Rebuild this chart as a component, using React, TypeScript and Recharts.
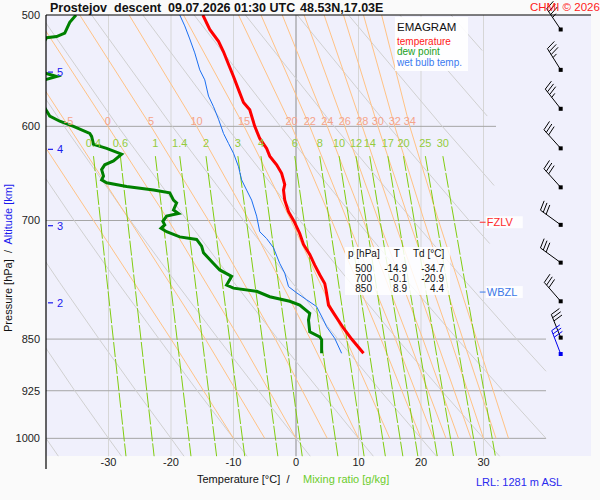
import React from "react";
import { ComposedChart, Line, XAxis, YAxis, ReferenceDot } from "recharts";

const FONT = '"Liberation Sans", Arial, Helvetica, sans-serif';

// axes
const tempTicks = [-30, -20, -10, 0, 10, 20, 30];
const pressureTicks = [500, 600, 700, 850, 925, 1000];

// temperature profile
const tempP = [500, 512, 522, 531, 542, 553, 565, 577, 584, 600, 612, 622, 630, 639, 648, 660, 666, 677, 690, 701, 715, 728, 740, 753, 765, 776, 784, 804, 817, 835, 850, 870];
const tempT = [-14.9, -13.8, -12.4, -11.6, -10.8, -10.0, -9.2, -8.4, -7.4, -6.6, -5.8, -4.7, -4.2, -3.1, -2.3, -1.8, -2.0, -1.8, -1.2, -0.3, 0.6, 1.2, 2.2, 3.0, 3.8, 4.6, 4.8, 5.2, 6.2, 7.6, 8.9, 10.8];

// dew point profile
const dewP = [500, 506, 515, 518, 519, 523, 533, 547, 550, 553, 556, 565, 582, 590, 595, 600, 607, 610, 618, 622, 628, 635, 639, 644, 651, 655, 658, 662, 666, 669, 677, 680, 688, 692, 695, 701, 705, 709, 713, 719, 722, 730, 738, 751, 759, 767, 778, 782, 786, 793, 799, 804, 815, 824, 840, 847, 851, 870];
const dewT = [-35.2, -36.2, -37.0, -38.3, -39.9, -40.4, -43, -42, -40.1, -38.3, -40.2, -43, -40.2, -39.4, -37.8, -35.6, -33.0, -32.7, -32.4, -30.3, -27.9, -29.2, -30.6, -31.1, -30.8, -31.1, -30.3, -27.1, -22.8, -20.2, -19.6, -19.1, -19.6, -18.8, -20.7, -21.3, -21.0, -21.6, -20.7, -18.6, -15.9, -15.1, -14.8, -13.2, -12.2, -10.3, -11.1, -10.0, -6.3, -4.2, -1.0, 0.6, 2.2, 2.0, 2.2, 3.8, 4.1, 4.1];

// wet bulb profile
const wetP = [500, 509, 520, 532, 547, 556, 571, 581, 593, 607, 617, 627, 641, 655, 666, 677, 695, 713, 721, 732, 751, 763, 780, 788, 797, 806, 824, 833, 849, 870];
const wetT = [-18.6, -17.8, -17.0, -16.2, -15.4, -14.6, -14.0, -13.2, -12.4, -11.6, -10.8, -10.0, -9.2, -8.7, -7.9, -7.1, -6.3, -5.8, -4.7, -3.6, -2.6, -1.8, -1.2, 0.1, 1.7, 3.3, 4.4, 4.9, 6.2, 7.3];

// moist adiabats (labelled by wet bulb potential temperature)
const moistLevels = [1000, 850, 700, 600, 500];
const moistThetaW = [-10, -5, 0, 5, 10, 15, 20, 22, 24, 26, 28, 30, 32, 34];
const moistT850 = [-20.0, -14.5, -9.0, -3.3, 2.3, 8.0, 13.6, 15.9, 18.0, 20.3, 22.4, 24.7, 26.7, 28.9];
const moistT700 = [-32.4, -26.6, -20.4, -14.0, -7.5, -0.8, 5.7, 8.2, 10.8, 13.2, 15.7, 18.1, 20.5, 22.8];
const moistT600 = [-42.3, -36.4, -30.1, -23.2, -15.9, -8.3, -0.7, 2.2, 5.0, 7.8, 10.6, 13.1, 15.8, 18.2];
const moistT500 = [-53.7, -48.0, -41.7, -34.6, -26.7, -18.0, -9.2, -5.6, -2.2, 1.3, 4.5, 7.6, 10.8, 13.7];

// dry adiabats
const dryP = [
  [1030, 1000, 925],
  [1030, 1000, 925, 850, 775],
  [1030, 1000, 925, 850, 775, 700],
  [1030, 1000, 925, 850, 775, 700, 600],
  [1030, 1000, 925, 850, 775, 700, 600, 500],
  [1030, 1000, 925, 850, 775, 700, 600, 500],
  [1030, 1000, 925, 850, 775, 700, 600, 500],
  [1030, 1000, 925, 850, 775, 700, 600, 500],
  [1000, 925, 850, 775, 700, 600, 500],
  [896, 850, 775, 700, 600, 500],
  [727, 700, 600, 500],
  [661, 600, 500],
  [590, 500],
  [530, 500],
];
const dryT = [
  [-38.0, -40.0, -45.1],
  [-27.9, -30.0, -35.4, -41.0, -47.1],
  [-17.9, -20.0, -25.6, -31.5, -37.8, -44.5],
  [-7.8, -10.0, -15.8, -21.9, -28.5, -35.5, -45.7],
  [2.3, 0, -6.0, -12.4, -19.2, -26.5, -37.1, -49.1],
  [12.4, 10, 3.8, -2.9, -9.9, -17.4, -28.5, -40.9],
  [22.5, 20, 13.5, 6.7, -0.6, -8.4, -19.8, -32.7],
  [32.6, 30, 23.3, 16.2, 8.7, 0.6, -11.2, -24.5],
  [40, 33.1, 25.8, 18.0, 9.7, -2.5, -16.3],
  [40, 35.3, 27.3, 18.7, 6.1, -8.1],
  [31.0, 27.7, 14.8, 0.2],
  [31.7, 23.4, 8.4],
  [30.6, 16.6],
  [29.8, 24.8],
];

// mixing ratio lines (g/kg)
const mixLabels = ["0.4", "0.6", "1", "1.4", "2", "3", "4", "6", "8", "10", "12", "14", "17", "20", "25", "30"];
const mixLevels = [630, 1030];
const mixTopT = [-32.4, -28.1, -22.5, -18.6, -14.4, -9.3, -5.6, -0.2, 3.8, 6.9, 9.6, 11.8, 14.7, 17.2, 20.7, 23.5];
const mixBottomT = [-27.2, -22.7, -16.8, -12.7, -8.2, -2.9, 1.0, 6.7, 10.9, 14.3, 17.1, 19.5, 22.6, 25.2, 28.9, 31.9];

// isobars and isotherms
const isobarP = [600, 700, 850, 925, 1000];
const isobarEndT = [32, 29.4, 40, 40, 40];
const isothermT = [-30, -20, -10, 0, 10, 20, 30];

// wind
const windP = [512, 547, 583, 622, 663, 705, 750, 799, 848, 871];
const windDir = [326, 328, 322, 318, 318, 306, 306, 319, 338, 339];
const windSpd = [35, 35, 35, 30, 30, 30, 30, 30, 30, 30];

// altitude marks
const altKm = [5, 4, 3, 2];
const altP = [549, 623, 706, 801];

// table
const tableP = [500, 700, 850];
const tableT = [-14.9, -0.1, 8.9];
const tableTd = [-34.7, -20.9, 4.4];

const fzlvP = 702;
const wbzlP = 787;

const pts = (ts: number[], ps: number[]) => ts.map((t, i) => ({ t, p: ps[i] }));

const series = (key: string, data: any[], stroke: string, width = 1, dash?: string) => (
  <Line
    key={key}
    data={data}
    dataKey="p"
    type="linear"
    stroke={stroke}
    strokeWidth={width}
    strokeDasharray={dash}
    dot={false}
    activeDot={false}
    legendType="none"
    isAnimationActive={false}
  />
);

const textShape = (label: string, color: string, size = 11) => (props: any) => (
  <text
    x={props.cx}
    y={props.cy}
    textAnchor="middle"
    dominantBaseline="central"
    fontSize={size}
    fontFamily={FONT}
    fill={color}
  >
    {label}
  </text>
);

const barbShape = (dir: number, spd: number, color: string) => (props: any) => {
  const { cx, cy } = props;
  const a = (dir * Math.PI) / 180;
  const ux = Math.sin(a);
  const uy = -Math.cos(a);
  const px = -uy;
  const py = ux;
  const fx = 0.25 * ux + 0.97 * px;
  const fy = 0.25 * uy + 0.97 * py;
  const ex = cx + ux * 25;
  const ey = cy + uy * 25;
  const full = Math.floor(spd / 10);
  const feathers = [];
  for (let i = 0; i < full; i++) {
    const sx = ex - ux * 3.5 * i;
    const sy = ey - uy * 3.5 * i;
    feathers.push(<line key={i} x1={sx} y1={sy} x2={sx + fx * 10} y2={sy + fy * 10} />);
  }
  if (spd % 10 >= 5) {
    const sx = ex - ux * 3.5 * full;
    const sy = ey - uy * 3.5 * full;
    feathers.push(<line key="h" x1={sx} y1={sy} x2={sx + fx * 5} y2={sy + fy * 5} />);
  }
  return (
    <g stroke={color} strokeWidth={1} fill="none">
      <line x1={cx} y1={cy} x2={ex} y2={ey} />
      {feathers}
      <rect x={cx - 2} y={cy - 2} width={4} height={4} fill={color} stroke="none" />
    </g>
  );
};

const altShape = (km: number) => (props: any) => (
  <g>
    <line x1={props.cx + 2} y1={props.cy} x2={props.cx + 7} y2={props.cy} stroke="#1a1aee" strokeWidth={1.2} />
    <text x={props.cx + 11} y={props.cy + 4} fontSize={11} fontFamily={FONT} fill="#1a1aee">
      {km}
    </text>
  </g>
);

const levelShape = (label: string, color: string) => (props: any) => (
  <g>
    <line x1={props.cx} y1={props.cy} x2={props.cx + 6} y2={props.cy} stroke={color} strokeWidth={1} />
    <rect x={props.cx + 6} y={props.cy - 6} width={37} height={12} fill="#ffffff" fillOpacity={0.85} />
    <text x={props.cx + 7} y={props.cy + 4} fontSize={11} fontFamily={FONT} fill={color}>
      {label}
    </text>
  </g>
);

export default function App() {
  return (
    <div style={{ position: "absolute", left: 0, top: 0, width: 600, height: 500, background: "#fafafa", fontFamily: FONT }}>
      <div style={{ position: "absolute", left: 46, top: 15, width: 545, height: 441.4, background: "#f0f0fc" }} />
      <div style={{ position: "absolute", left: 0, top: 0 }}>
        <ComposedChart width={600} height={500} margin={{ top: 15, right: 9, bottom: 0, left: 0 }}>
          <XAxis
            type="number"
            dataKey="t"
            domain={[-40, 47.2]}
            allowDataOverflow
            ticks={tempTicks}
            interval={0}
            tickLine={false}
            axisLine={false}
            tickSize={0}
            tickMargin={2}
            height={43.6}
            tick={{ fontSize: 11, fill: "#222", fontFamily: FONT }}
          />
          <YAxis
            type="number"
            scale="log"
            domain={[500, 1030]}
            reversed
            allowDataOverflow
            ticks={pressureTicks}
            interval={0}
            tickLine={false}
            axisLine={false}
            tickSize={0}
            tickMargin={6}
            width={46}
            tick={{ fontSize: 11, fill: "#222", fontFamily: FONT }}
          />

          {isothermT.map((t) =>
            series(`it${t}`, pts([t, t], [500, 1030]), t === 0 ? "#8c8c8c" : "#d6d6d6")
          )}
          {isobarP.map((p, i) => series(`ip${p}`, pts([-40, isobarEndT[i]], [p, p]), "#a6a6a6"))}
          {dryP.map((ps, i) => series(`dry${i}`, pts(dryT[i], ps), "#d0d0d0"))}
          {moistThetaW.map((w, i) =>
            series(
              `moist${w}`,
              pts([w, moistT850[i], moistT700[i], moistT600[i], moistT500[i]], moistLevels),
              "#ffc285"
            )
          )}
          {mixLabels.map((m, i) =>
            series(`mix${m}`, pts([mixTopT[i], mixBottomT[i]], mixLevels), "#80cc10", 1, "15 2")
          )}

          {series("dew", pts(dewT, dewP), "#008000", 3)}
          {series("wet", pts(wetT, wetP), "#1a6ef0", 1)}
          {series("temp", pts(tempT, tempP), "#ff0000", 3)}

          {moistThetaW.map((w, i) =>
            moistT600[i] > -40 ? (
              <ReferenceDot key={`ml${w}`} x={moistT600[i]} y={594.5} ifOverflow="visible" shape={textShape(String(w), "#f5a48a")} />
            ) : null
          )}
          {mixLabels.map((m, i) => (
            <ReferenceDot key={`xl${m}`} x={mixTopT[i]} y={616.3} ifOverflow="visible" shape={textShape(m, "#94cc3c")} />
          ))}
          {altKm.map((k, i) => (
            <ReferenceDot key={`alt${k}`} x={-40} y={altP[i]} ifOverflow="visible" shape={altShape(k)} />
          ))}
          <ReferenceDot x={29.4} y={fzlvP} ifOverflow="visible" shape={levelShape("FZLV", "#ff2a2a")} />
          <ReferenceDot x={29.4} y={wbzlP} ifOverflow="visible" shape={levelShape("WBZL", "#3a78e8")} />
          {windP.map((p, i) => (
            <ReferenceDot
              key={`wb${i}`}
              x={42.35}
              y={p}
              ifOverflow="visible"
              shape={barbShape(windDir[i], windSpd[i], i === windP.length - 1 ? "#0000ee" : "#000000")}
            />
          ))}
        </ComposedChart>
      </div>

      <svg width={600} height={500} style={{ position: "absolute", left: 0, top: 0, pointerEvents: "none" }} fontFamily={FONT}>
        <line x1={46} y1={15} x2={591} y2={15} stroke="#000" strokeWidth={1.2} />
        <line x1={46} y1={15} x2={46} y2={469} stroke="#000" strokeWidth={1.2} />

        <g fontWeight="bold" fontSize={12.5} fill="#111">
          <text x={50} y={11.5}>Prostejov</text>
          <text x={114} y={11.5}>descent</text>
          <text x={168} y={11.5}>09.07.2026 01:30 UTC</text>
          <text x={300} y={11.5}>48.53N,17.03E</text>
        </g>
        <text x={530} y={11} fontSize={11.5} fill="#ff2020">CHMI © 2026</text>

        <rect x={395} y={17} width={73} height={54} fill="#ffffff" fillOpacity={0.9} />
        <text x={397} y={31} fontSize={11.5} fill="#111">EMAGRAM</text>
        <text x={397} y={45.3} fontSize={10} fill="#ff2020">temperature</text>
        <text x={397} y={55.3} fontSize={10} fill="#22a022">dew point</text>
        <text x={397} y={65.9} fontSize={10} fill="#3a7af0">wet bulb temp.</text>

        <rect x={345} y={247} width={105} height={48} fill="#ffffff" fillOpacity={0.85} />
        <g fontSize={10} fill="#111">
          <text x={348} y={257.2}>p [hPa]</text>
          <text x={396.7} y={257.2} textAnchor="middle">T</text>
          <text x={413} y={257.2}>Td [°C]</text>
          {tableP.map((p, i) => (
            <g key={p}>
              <text x={372} y={272 + i * 10}>
                <tspan textAnchor="end">{p}</tspan>
              </text>
              <text x={407} y={272 + i * 10} textAnchor="end">{tableT[i].toFixed(1)}</text>
              <text x={444} y={272 + i * 10} textAnchor="end">{tableTd[i].toFixed(1)}</text>
            </g>
          ))}
        </g>

        <text x={11.5} y={258} fontSize={11} textAnchor="middle" transform="rotate(-90 11.5 258)" style={{ whiteSpace: "pre" }}>
          <tspan fill="#111">{"Pressure [hPa]  /  "}</tspan>
          <tspan fill="#1a1aee">Altitude [km]</tspan>
        </text>
        <text x={197} y={483} fontSize={11} fill="#111" style={{ whiteSpace: "pre" }}>{"Temperature [°C]  /"}</text>
        <text x={303} y={483} fontSize={11} fill="#6ccc2c">Mixing ratio [g/kg]</text>
        <text x={476} y={485.5} fontSize={11} fill="#2a2aee">LRL: 1281 m ASL</text>
      </svg>
    </div>
  );
}
